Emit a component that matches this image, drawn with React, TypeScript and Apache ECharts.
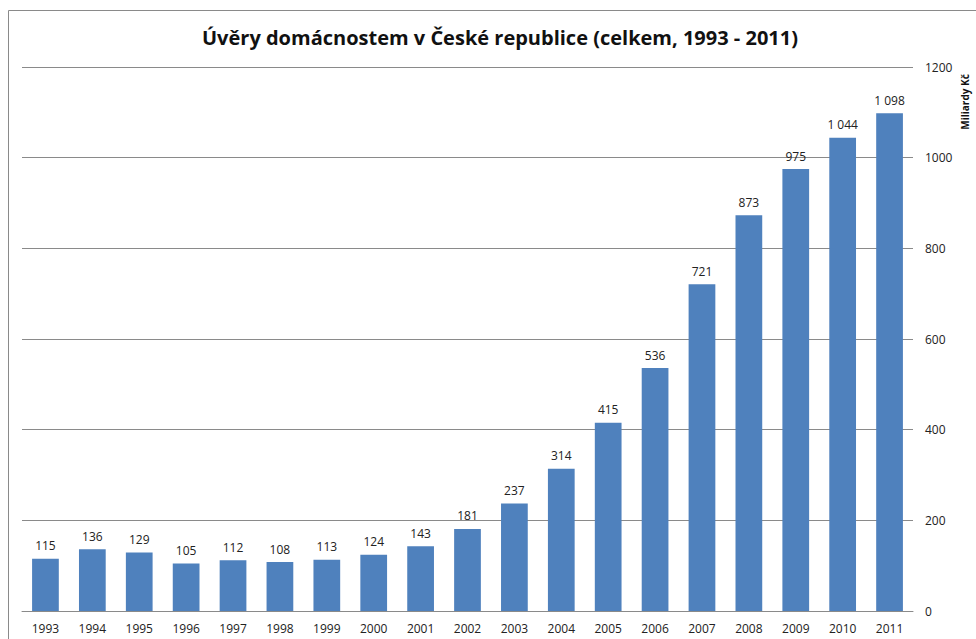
import React, { useEffect, useRef } from "react";
import * as echarts from "echarts";

const years = ["1993","1994","1995","1996","1997","1998","1999","2000","2001","2002","2003","2004","2005","2006","2007","2008","2009","2010","2011"];
const loans = [115,136,129,105,112,108,113,124,143,181,237,314,415,536,721,873,975,1044,1098];
const yTicks = { min: 0, max: 1200, interval: 200 };
const titleText = "Úvěry domácnostem v České republice (celkem, 1993 - 2011)";
const unitText = "Miliardy Kč";

const fmt = (v: number) => {
  const s = String(v);
  return s.length > 3 ? s.slice(0, s.length - 3) + " " + s.slice(-3) : s;
};

export default function App() {
  const ref = useRef<HTMLDivElement>(null);
  useEffect(() => {
    const chart = echarts.init(ref.current!, null, { renderer: "svg" });
    chart.setOption({
      animation: false,
      backgroundColor: "#ffffff",
      textStyle: { fontFamily: "Open Sans" },
      title: {
        text: titleText,
        left: 197,
        top: 22,
        textStyle: { fontFamily: "Open Sans", fontWeight: "bold", fontSize: 20, color: "#111" },
      },
      graphic: [
        {
          type: "rect",
          shape: { x: 8.5, y: 10.5, width: 1100, height: 800 },
          style: { fill: "none", stroke: "#8a8a8a", lineWidth: 1 },
          silent: true,
        },
        {
          type: "text",
          x: 965,
          y: 102,
          rotation: Math.PI / 2,
          style: {
            text: unitText,
            fontFamily: "Open Sans",
            fontWeight: "bold",
            fontSize: 10,
            fill: "#111",
            align: "center",
            verticalAlign: "middle",
          },
        },
      ],
      grid: { left: 22, right: 63, top: 67, bottom: 28, containLabel: false },
      xAxis: {
        type: "category",
        data: years,
        axisLine: { show: true, lineStyle: { color: "#8a8a8a", width: 1 } },
        axisTick: { show: false },
        axisLabel: { color: "#222", fontSize: 12, margin: 11, interval: 0 },
      },
      yAxis: {
        type: "value",
        position: "right",
        min: yTicks.min,
        max: yTicks.max,
        interval: yTicks.interval,
        axisLine: { show: false },
        axisTick: { show: false },
        axisLabel: { color: "#222", fontSize: 12, margin: 12, formatter: (v: number) => String(v) },
        splitLine: { lineStyle: { color: "#8a8a8a", width: 1 } },
      },
      series: [
        {
          type: "bar",
          data: loans,
          barWidth: "57%",
          itemStyle: { color: "#4f81bd" },
          label: {
            show: true,
            position: "top",
            distance: 7,
            color: "#222",
            fontSize: 12,
            formatter: (p: any) => fmt(p.value),
          },
        },
      ],
    });
    return () => chart.dispose();
  }, []);
  return (
    <div
      ref={ref}
      style={{ position: "absolute", left: 0, top: 0, width: 976, height: 639 }}
    />
  );
}
